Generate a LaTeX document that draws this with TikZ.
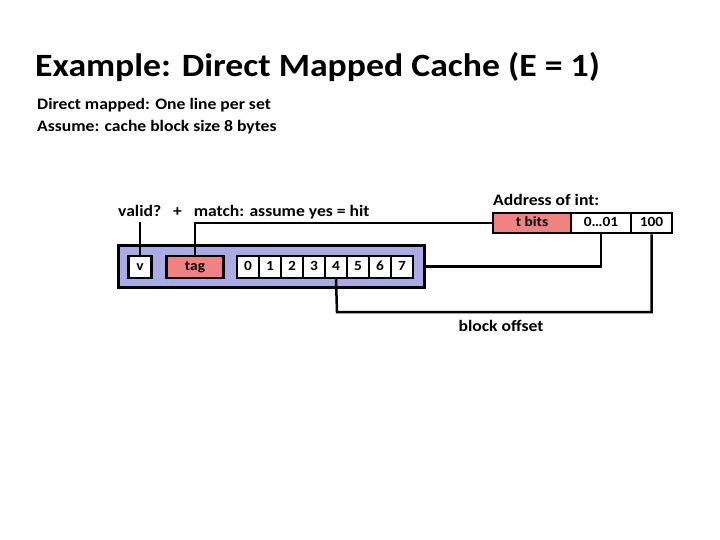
\documentclass[tikz,border=0pt]{standalone}
\usepackage{fontspec}
\setmainfont{Carlito}[FakeStretch=1.1,Numbers=Lining]
\definecolor{lav}{RGB}{170,170,228}
\definecolor{pinkc}{RGB}{240,130,130}
\begin{document}
\begin{tikzpicture}[x=1pt,y=-1pt,
  box/.style={draw=black,line width=2.5pt,inner sep=0pt,text height=9pt,text depth=2pt,font=\bfseries\fontsize{14}{16}\selectfont},
  wire/.style={draw=black,line width=2.5pt},
  lbl/.style={inner sep=0pt,font=\bfseries\fontsize{16}{19}\selectfont}]
\useasboundingbox (0,0) rectangle (720,540);
\node[inner sep=0pt,anchor=west,font=\bfseries\fontsize{32.5}{38}\selectfont] (title) at (35,67) {Example: Direct Mapped Cache (E = 1)};
\node[inner sep=0pt,anchor=west,align=left,font=\bfseries\fontsize{16}{22}\selectfont] (sub) at (37,116) {Direct mapped: One line per set\\Assume: cache block size 8 bytes};
\node[box,fill=lav,minimum width=306,minimum height=42] (line) at (271.5,266.5) {};
\node[box,fill=white,minimum width=23,minimum height=22] (v) at (140,267) {v};
\node[box,fill=pinkc,minimum width=57,minimum height=22] (tag) at (195,267) {tag};
\foreach \i in {0,...,7}{
  \node[box,fill=white,minimum width=22,minimum height=22] (c\i) at ({248+22*\i},267) {\i};
}
\node[lbl,anchor=west] (vlab) at (118,212) {valid?\ \ \ +\ \ \ match: assume yes = hit};
\node[lbl,anchor=west] (alab) at (493,200) {Address of int:};
\node[box,fill=pinkc,minimum width=78,minimum height=20] (tb) at (532,223) {t bits};
\node[box,fill=white,minimum width=60,minimum height=20] (mid) at (601,223) {0…01};
\node[box,fill=white,minimum width=41,minimum height=20] (lo) at (651.5,223) {100};
\node[lbl] (bo) at (501,326) {block offset};
\coordinate (vend) at (140,222);
\coordinate (boc) at (337,312);
\draw[wire] (v.north) -- (vend);
\draw[wire] (tag.north) |- (tb.west);
\draw[wire] (line.east) -| (mid.south);
\draw[wire] (c4.south) -- (boc) -| (lo.south);
\end{tikzpicture}
\end{document}
